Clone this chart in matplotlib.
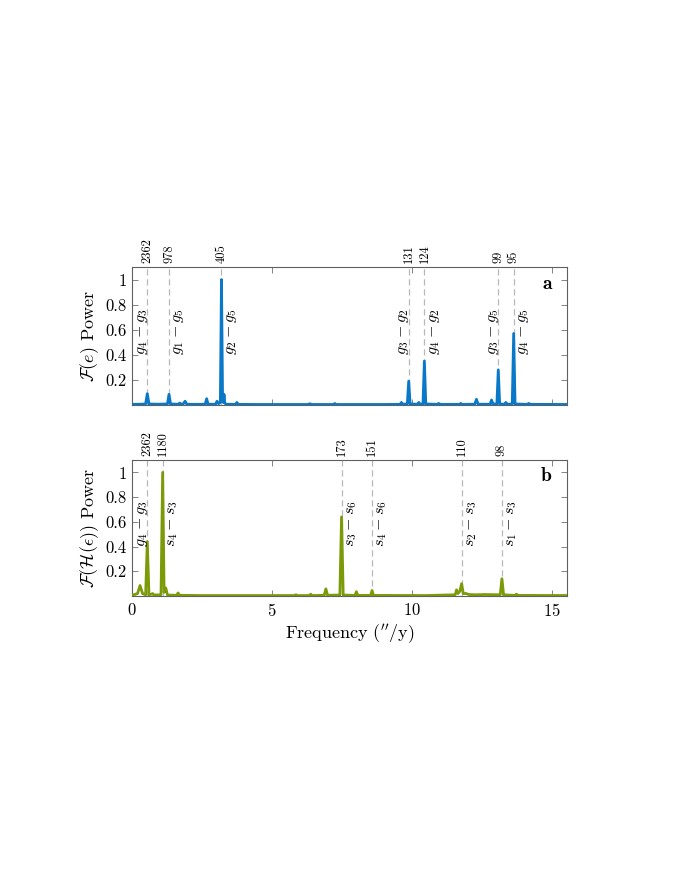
import numpy as np
import matplotlib
matplotlib.use('Agg')
import matplotlib.pyplot as plt
import matplotlib.transforms as mtransforms

plt.rcParams['font.family'] = 'cmr10'
plt.rcParams['mathtext.fontset'] = 'cm'
plt.rcParams['axes.unicode_minus'] = False
plt.rcParams['axes.formatter.use_mathtext'] = True

# spectrum of e (panel a): (frequency "/y, power)
freq_a = [0.0, 0.3, 0.49, 0.549, 0.61, 0.9, 1.27, 1.325, 1.38, 1.66, 1.71, 1.76, 1.84, 1.9, 1.96,
          2.3, 2.62, 2.67, 2.72, 2.99, 3.04, 3.1, 3.16, 3.2, 3.24, 3.27, 3.29, 3.32, 3.36, 3.7,
          3.75, 3.8, 4.5, 6.3, 6.36, 6.42, 7.2, 7.25, 7.3, 9.0, 9.58, 9.63, 9.68, 9.84, 9.89,
          9.94, 10.2, 10.25, 10.3, 10.4, 10.45, 10.5, 10.9, 10.96, 11.02, 11.7, 11.75, 11.8,
          12.25, 12.31, 12.37, 12.8, 12.85, 12.9, 13.04, 13.09, 13.14, 13.31, 13.36, 13.41,
          13.59, 13.64, 13.69, 14.12, 14.18, 14.24, 15.6]
pow_a = [0.005, 0.006, 0.008, 0.09, 0.008, 0.006, 0.008, 0.085, 0.008, 0.006, 0.015, 0.006, 0.01, 0.03, 0.006,
         0.005, 0.006, 0.05, 0.006, 0.006, 0.03, 0.01, 0.02, 1.0, 0.03, 0.02, 0.085, 0.015, 0.006, 0.005,
         0.02, 0.005, 0.004, 0.004, 0.01, 0.004, 0.004, 0.012, 0.004, 0.004, 0.005, 0.02, 0.006, 0.008, 0.19,
         0.008, 0.006, 0.02, 0.006, 0.008, 0.35, 0.008, 0.005, 0.012, 0.005, 0.005, 0.012, 0.005,
         0.006, 0.045, 0.006, 0.006, 0.04, 0.008, 0.008, 0.28, 0.008, 0.006, 0.02, 0.006,
         0.008, 0.57, 0.008, 0.005, 0.012, 0.005, 0.004]

# spectrum of H(eps) (panel b)
freq_b = [0.0, 0.2, 0.29, 0.38, 0.49, 0.549, 0.61, 0.7, 0.74, 0.79, 1.04, 1.098, 1.15, 1.21, 1.27,
          1.6, 1.65, 1.7, 2.5, 5.8, 5.86, 5.92, 6.34, 6.39, 6.44, 6.87, 6.93, 6.99, 7.43, 7.49,
          7.55, 7.97, 8.02, 8.07, 8.53, 8.58, 8.63, 10.5, 11.2, 11.55, 11.6, 11.65, 11.72, 11.78,
          11.84, 11.95, 12.0, 12.05, 12.3, 12.6, 13.16, 13.22, 13.28, 13.69, 13.74, 13.79, 15.6]
pow_b = [0.005, 0.02, 0.085, 0.02, 0.01, 0.44, 0.01, 0.015, 0.02, 0.008, 0.01, 1.0, 0.03, 0.065, 0.008,
         0.006, 0.025, 0.006, 0.004, 0.004, 0.01, 0.004, 0.004, 0.015, 0.004, 0.006, 0.058, 0.006, 0.008, 0.64,
         0.008, 0.005, 0.035, 0.005, 0.005, 0.045, 0.005, 0.004, 0.008, 0.01, 0.05, 0.02, 0.04, 0.1,
         0.02, 0.02, 0.015, 0.012, 0.01, 0.012, 0.01, 0.14, 0.01, 0.005, 0.015, 0.005, 0.004]

# periods (kyr) marked on top, their frequencies and line names
per_a = ['2362', '978', '405', '131', '124', '99', '95']
mark_a = [0.549, 1.325, 3.2, 9.89, 10.45, 13.09, 13.64]
name_a = [r'$g_4 - g_3$', r'$g_1 - g_5$', r'$g_2 - g_5$', r'$g_3 - g_2$', r'$g_4 - g_2$', r'$g_3 - g_5$', r'$g_4 - g_5$']
side_a = ['l', 'r', 'r', 'l', 'r', 'l', 'r']

per_b = ['2362', '1180', '173', '151', '110', '98']
mark_b = [0.549, 1.098, 7.49, 8.58, 11.78, 13.22]
name_b = [r'$g_4 - g_3$', r'$s_4 - s_3$', r'$s_3 - s_6$', r'$s_4 - s_6$', r'$s_2 - s_3$', r'$s_1 - s_3$']
side_b = ['l', 'r', 'r', 'r', 'r', 'r']

fig = plt.figure(figsize=(6.8, 8.8), dpi=100)
ax_a = fig.add_axes([0.194, 0.5398, 0.640, 0.1568])
ax_b = fig.add_axes([0.194, 0.3227, 0.640, 0.1545])


def panel(ax, f, p, col, per, mark, name, side, letter, ylab):
    for m in mark:
        ax.axvline(m, color='#b8b8b8', lw=0.9, ls=(0, (5, 3)), zorder=1)
    ax.plot(f, p, color=col, lw=2.0, zorder=3, solid_joinstyle='round')
    ax.set_xlim(0, 15.55)
    ax.set_ylim(0, 1.1)
    ax.set_yticks([0.2, 0.4, 0.6, 0.8, 1.0])
    ax.set_yticklabels(['0.2', '0.4', '0.6', '0.8', '1'])
    ax.set_xticks([0, 5, 10, 15])
    ax.tick_params(direction='in', top=True, right=True, length=4, width=0.6,
                   color='#707070', labelsize=12, pad=4)
    for s in ax.spines.values():
        s.set_color('#606060')
        s.set_linewidth(0.8)
    ax.set_ylabel(ylab, fontsize=13, labelpad=3)
    trans = mtransforms.blended_transform_factory(ax.transData, ax.transAxes)
    for lab, m, nm, sd in zip(per, mark, name, side):
        ax.text(m, 1.03, lab, transform=trans, rotation=90, ha='center', va='bottom', fontsize=9)
        if sd == 'l':
            ax.text(m + 0.08, 0.775, nm, rotation=90, ha='right', va='top', fontsize=11.5, zorder=5)
        else:
            ax.text(m + 0.12, 0.775, nm, rotation=90, ha='left', va='top', fontsize=11.5, zorder=5)
    ax.text(0.965, 0.88, letter, transform=ax.transAxes, ha='right', va='center',
            fontsize=14, family='cmb10')


panel(ax_a, freq_a, pow_a, '#0a78c8', per_a, mark_a, name_a, side_a, 'a', r'$\mathcal{F}(e)$ Power')
panel(ax_b, freq_b, pow_b, '#7b9a08', per_b, mark_b, name_b, side_b, 'b',
      r'$\mathcal{F}(\mathcal{H}(\epsilon))$ Power')
ax_a.set_xticklabels([])
ax_b.set_xlabel(r"Frequency ($''$/y)", fontsize=13, labelpad=3)

fig.savefig('out.png', dpi=100)
